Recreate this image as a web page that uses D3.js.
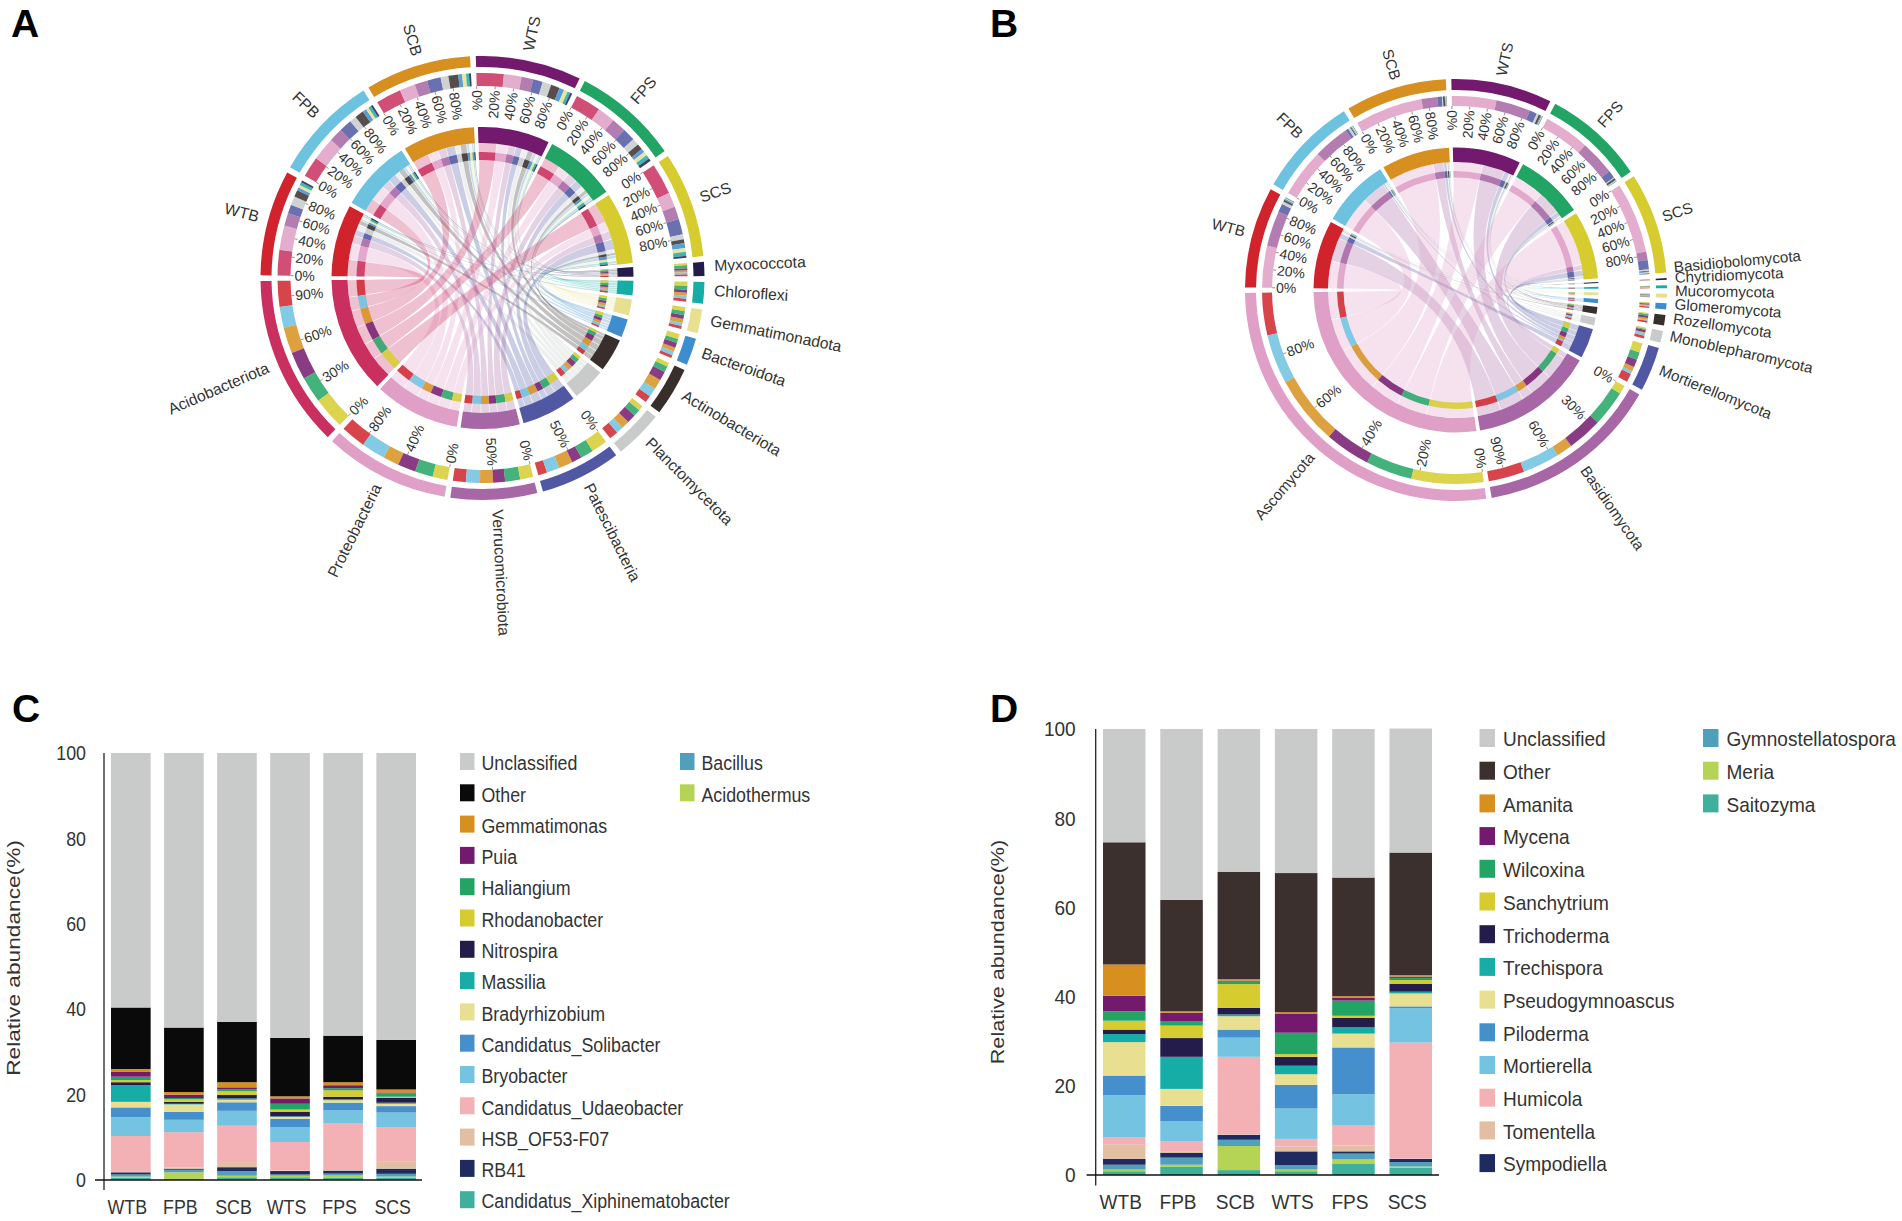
<!DOCTYPE html>
<html><head><meta charset="utf-8">
<script src="https://cdn.jsdelivr.net/npm/d3@7/dist/d3.min.js"></script>
<style>html,body{margin:0;background:#fff}svg{display:block}text{font-family:"Liberation Sans",Arial,sans-serif;fill:#333}</style>
</head><body><svg id="c" width="1902" height="1221"></svg>
<script>
// ---------- shared ----------
const samples = ["WTB","FPB","SCB","WTS","FPS","SCS"];
const sampleColors = ["#d0232c","#6dc2e0","#d7901f","#741a6e","#22a564","#d6cc30"];

// ---------- panel A : phylum composition ----------
const phylaA = ["Acidobacteriota","Proteobacteria","Verrucomicrobiota","Patescibacteria","Planctomycetota","Actinobacteriota","Bacteroidota","Gemmatimonadota","Chloroflexi","Myxococcota"];
const phylaAColors = ["#c92f5f","#df9fc6","#a766a5","#5058a3","#c8cbc9","#382f2d","#3e8dcf","#e8df90","#17ada7","#231c4b"];
const a_WTB = [26,25,13,9,9,7,3,3,3,2];
const a_FPB = [21,24,14,13,7,9,4,3,3,2];
const a_SCB = [26,16,13,14,8,10,4,4,3,2];
const a_WTS = [28,18,12,10,9,9,5,4,3,2];
const a_FPS = [26,18,15,13,7,6,4,4,4,3];
const a_SCS = [32,15,13,16,5,4,5,4,4,2];
const tickLabelsA = [[0,30,60,90],[0,40,80],[0,50],[0,50]];
const labelNudgeA = [0,0,0,0,0,0,0,0,0,0];

// ---------- panel B ----------
const phylaB = ["Ascomycota","Basidiomycota","Mortierellomycota","Monoblepharomycota","Rozellomycota","Glomeromycota","Mucoromycota","Chytridiomycota","Basidiobolomycota"];
const phylaBColors = ["#df9fc6","#a766a5","#5058a3","#c8cbc9","#382f2d","#3e8dcf","#e8df90","#17ada7","#231c4b"];
const b_WTB = [45,38,9,3,2,1.5,.7,.5,.3];
const b_FPB = [52,39,3,2.5,1,1,.7,.5,.3];
const b_SCB = [73,17,5,1,2,.8,.6,.4,.2];
const b_WTS = [48,37,8,2.5,2.2,1,.6,.4,.3];
const b_FPS = [49,38,8,1,2,.8,.6,.4,.2];
const b_SCS = [76,9,10,1.5,1,.8,.8,.5,.4];
const tickLabelsB = [[0,20,40,60,80],[0,30,60,90]];
const labelNudgeB = [0,0,0,0,0,0,-.6,-1.6,-2.2];

const sampleTicks = [0,20,40,60,80];

// ---------- panel C : genus stacks (bottom to top in the bars, top to bottom here) ----------
const genusC = ["Unclassified","Other","Gemmatimonas","Puia","Haliangium","Rhodanobacter","Nitrospira","Massilia","Bradyrhizobium","Candidatus_Solibacter","Bryobacter","Candidatus_Udaeobacter","HSB_OF53-F07","RB41","Candidatus_Xiphinematobacter","Bacillus","Acidothermus"];
const genusCColors = ["#c9cbca","#0a0a0a","#d7901f","#741a6e","#22a564","#d6cc30","#241c4a","#17ada7","#e8e090","#4590cc","#74c3e1","#f3b0b5","#e2bfa2","#1e2a60","#3fb09b","#50a0bc","#b5d354"];
const c_Unclassified=[59.6,64.3,63,66.7,66.2,67.2];
const c_Other=[14.4,15.1,14.1,13.7,10.9,11.6];
const c_Gemmatimonas=[.7,.6,1.2,.5,.7,.7];
const c_Puia=[1.1,.8,.5,1.25,.7,.2];
const c_Haliangium=[.8,.3,.4,1.35,.5,.8];
const c_Rhodanobacter=[.5,.6,.9,.5,1.5,.3];
const c_Nitrospira=[.7,.45,.8,1.1,.6,1.1];
const c_Massilia=[3.9,.15,.3,.1,.2,.25];
const c_Bradyrhizobium=[1.3,1.7,.6,.5,.6,.55];
const c_Solibacter=[2.3,1.9,2,1.9,1.8,1.5];
const c_Bryobacter=[4.4,2.9,3.5,3.5,3.1,3.4];
const c_Udaeobacter=[8.4,8.3,8.5,6.7,10.9,8];
const c_HSB=[.1,.25,1.2,.1,.1,1.75];
const c_RB41=[.5,.25,.9,.8,.7,1.2];
const c_Bacillus=[.5,.6,1.1,.3,.45,.65];
const c_Acidothermus=[.25,1.55,.35,.35,.45,.3];
const c_Xiphinematobacter=[.55,.25,.65,.65,.6,.5];

// ---------- panel D ----------
const genusD = ["Unclassified","Other","Amanita","Mycena","Wilcoxina","Sanchytrium","Trichoderma","Trechispora","Pseudogymnoascus","Piloderma","Mortierella","Humicola","Tomentella","Sympodiella","Gymnostellatospora","Meria","Saitozyma"];
const genusDColors = ["#c9cbca","#3b302d","#d7901f","#741a6e","#22a564","#d6cc30","#241c4a","#17ada7","#e8e090","#4590cc","#74c3e1","#f3b0b5","#e2bfa2","#1e2a60","#50a0bc","#b5d354","#3fb09b"];
const d_Unclassified=[25.4,38.3,32,32.3,33.3,27.8];
const d_Other=[27.4,25,24.1,31.2,26.6,27.5];
const d_Amanita=[7,.3,.3,.4,.3,.3];
const d_Mycena=[3.5,2,.1,4.2,.7,.3];
const d_Wilcoxina=[2.1,.9,.7,4.8,3.4,.5];
const d_Sanchytrium=[2,2.8,5.3,.6,.5,.8];
const d_Trichoderma=[1,4.2,1.5,2,2.1,1.8];
const d_Trechispora=[1.8,7.2,.4,1.9,1.4,.4];
const d_Pseudogymnoascus=[7.5,3.8,3,2.4,3.1,2.9];
const d_Piloderma=[4.4,3.4,1.8,5.3,10.5,.4];
const d_Mortierella=[9.4,4.5,4.3,6.8,6.9,7.7];
const d_Humicola=[1.7,2.4,17.4,1.7,4.6,26];
const d_Tomentella=[3.2,.2,.1,1.1,1.3,.1];
const d_Sympodiella=[1.3,1.1,1.1,3.1,.5,.7];
const d_Gymnostellatospora=[1.1,1.6,1.4,1,1.3,1];
const d_Meria=[.35,.5,5.4,.35,.9,.3];
const d_Saitozyma=[.85,1.8,1.1,.85,2.6,1.6];

const yTicks=[0,20,40,60,80,100];

const svg=d3.select("#c");
const rad=Math.PI/180;

function chord(cfg,matrix,phyla,phylaColors,phylumTicks,nudge){
  const g=svg.append("g").attr("transform",`translate(${cfg.cx},${cfg.cy})`);
  const colTotals=phyla.map((_,j)=>d3.sum(matrix,r=>r[j]));
  const rowTotals=matrix.map(r=>d3.sum(r));
  const n=samples.length+phyla.length;
  const gap=cfg.gap, ss=cfg.ss;
  const k=(360-n*gap)/(d3.sum(colTotals)+ss*d3.sum(rowTotals));
  const ks=k*ss;
  let a=cfg.start;
  const sampleSec=rowTotals.map(t=>{const s={a0:a,a1:a+t*ks};a=s.a1+gap;return s;});
  const phylumSec=[];
  for(let j=phyla.length-1;j>=0;j--){phylumSec[j]={a0:a,a1:a+colTotals[j]*k};a=phylumSec[j].a1+gap;}
  const links=[];
  const sCursor=sampleSec.map(s=>s.a0);
  const pCursor=phylumSec.map(s=>s.a1);
  matrix.forEach((row,i)=>row.forEach((v,j)=>{
    const s={startAngle:sCursor[i]*rad,endAngle:(sCursor[i]+v*ks)*rad};
    sCursor[i]+=v*ks;
    const t={startAngle:(pCursor[j]-v*k)*rad,endAngle:pCursor[j]*rad};
    pCursor[j]-=v*k;
    links.push({i,j,source:s,target:t});
  }));
  const arc=d3.arc();
  const ribbon=d3.ribbon().radius(cfg.rib);
  const pad=cfg.pad*rad;
  const shrink=s=>{const m=Math.min(pad,(s.endAngle-s.startAngle)*.2);return {startAngle:s.startAngle+m,endAngle:s.endAngle-m};};
  const order=links.slice().sort((x,y)=>y.j-x.j);
  g.selectAll("path.rib").data(order).join("path").attr("class","rib")
    .attr("d",d=>ribbon({source:shrink(d.source),target:shrink(d.target)}))
    .attr("fill",d=>phylaColors[d.j]).attr("fill-opacity",.3);
  const band=(sel,cls,fn,r0,r1,col,op)=>g.selectAll("path."+cls).data(sel).join("path").attr("class",cls)
    .attr("d",d=>{const s=fn(d);return arc({innerRadius:r0,outerRadius:r1,startAngle:s.startAngle,endAngle:s.endAngle});})
    .attr("fill",col).attr("fill-opacity",op);
  band(links,"ps",d=>shrink(d.source),cfg.rib,cfg.sI,d=>phylaColors[d.j],.3);
  band(links,"pt",d=>shrink(d.target),cfg.rib,cfg.sI,d=>phylaColors[d.j],.3);
  [[cfg.rib,cfg.ring],[cfg.t2I,cfg.t2O]].forEach(([r0,r1],q)=>{
    band(links,"rs"+q,d=>d.source,r0,r1,d=>phylaColors[d.j],.85);
    band(links,"rt"+q,d=>d.target,r0,r1,d=>sampleColors[d.i],.85);
  });
  const secs=sampleSec.map((s,i)=>({...s,name:samples[i],col:sampleColors[i],nudge:0}))
    .concat(phylumSec.map((s,j)=>({...s,name:phyla[j],col:phylaColors[j],nudge:nudge[j]})));
  [[cfg.sI,cfg.sO],[cfg.oI,cfg.oO]].forEach(([r0,r1],q)=>{
    g.selectAll("path.sec"+q).data(secs).join("path").attr("class","sec"+q)
     .attr("d",d=>arc({innerRadius:r0,outerRadius:r1,startAngle:d.a0*rad,endAngle:d.a1*rad}))
     .attr("fill",d=>d.col);
  });
  const radial=(ang,r,txt,size)=>{
    const norm=((ang%360)+360)%360;
    const right=norm<180;
    const x=r*Math.sin(ang*rad),y=-r*Math.cos(ang*rad);
    return g.append("text").attr("transform",`translate(${x},${y}) rotate(${right?norm-90:norm+90})`)
      .attr("text-anchor",right?"start":"end").attr("dy",".15em").attr("font-size",size).text(txt);
  };
  secs.forEach(s=>radial((s.a0+s.a1)/2+s.nudge,cfg.lab,s.name,cfg.labSize));
  const tick=(sec,val)=>{
    const ang=sec.a0+(sec.a1-sec.a0)*val/100;
    const c=Math.sin(ang*rad),d=-Math.cos(ang*rad);
    g.append("line").attr("x1",c*cfg.t2I).attr("y1",d*cfg.t2I).attr("x2",c*(cfg.t2I-3)).attr("y2",d*(cfg.t2I-3)).attr("stroke","#777").attr("stroke-width",.8);
    const norm=((ang%360)+360)%360;
    const right=norm<180;
    const r=cfg.t2I-4;
    g.append("text").attr("transform",`translate(${c*r},${d*r}) rotate(${right?norm-90:norm+90})`)
      .attr("text-anchor",right?"end":"start").attr("dy",".35em").attr("font-size",cfg.tickSize).text(val+"%");
  };
  sampleSec.forEach(s=>sampleTicks.forEach(v=>tick(s,v)));
  phylumTicks.forEach((vals,j)=>vals.forEach(v=>tick(phylumSec[j],v)));
}

chord({cx:482.5,cy:278,gap:1.5,ss:.978,start:270.7,pad:.12,rib:118,ring:126,sI:135,sO:151,t2I:192,t2O:205,oI:211,oO:222,lab:232,labSize:15.7,tickSize:14},
  [a_WTB,a_FPB,a_SCB,a_WTS,a_FPS,a_SCS],phylaA,phylaAColors,tickLabelsA,labelNudgeA);
chord({cx:1456,cy:290,gap:1.5,ss:.98,start:270.7,pad:.12,rib:112.5,ring:119,sI:128,sO:142.5,t2I:184,t2O:194,oI:200,oO:211,lab:219,labSize:15.2,tickSize:14},
  [b_WTB,b_FPB,b_SCB,b_WTS,b_FPS,b_SCS],phylaB,phylaBColors,tickLabelsB,labelNudgeB);

function stacked(cfg,names,colors,series){
  const g=svg.append("g");
  const data=samples.map((s,i)=>{const o={sample:s};names.forEach((n,j)=>o[n]=series[j][i]);return o;});
  const y=d3.scaleLinear().domain([0,100]).range([cfg.y0,cfg.y100]);
  const x=d3.scaleBand().domain(samples).range([cfg.x0,cfg.x1]).paddingInner(cfg.pi).paddingOuter(0);
  const stackKeys=cfg.stackOrder.map(i=>names[i]);
  const st=d3.stack().keys(stackKeys)(data);
  const colorOf=Object.fromEntries(names.map((n,i)=>[n,colors[i]]));
  g.selectAll("g.s").data(st).join("g").attr("class","s").attr("fill",d=>colorOf[d.key])
    .selectAll("rect").data(d=>d).join("rect")
    .attr("x",d=>x(d.data.sample)).attr("width",x.bandwidth())
    .attr("y",d=>y(d[1])).attr("height",d=>y(d[0])-y(d[1]));
  g.append("line").attr("x1",cfg.axisX).attr("x2",cfg.axisX).attr("y1",cfg.y100).attr("y2",cfg.axisBottom).attr("stroke","#222").attr("stroke-width",1.3);
  g.append("line").attr("x1",cfg.xAxisL).attr("x2",cfg.xAxisR).attr("y1",cfg.y0).attr("y2",cfg.y0).attr("stroke","#111").attr("stroke-width",1.6);
  const sq=cfg.sq;
  yTicks.forEach(t=>{
    g.append("text").attr("transform",`translate(${cfg.axisX-cfg.tickGap},${y(t)}) scale(${sq},1)`).attr("text-anchor","end").attr("dy",".36em").attr("font-size",cfg.fs).text(t);
  });
  samples.forEach(s=>{
    g.append("text").attr("transform",`translate(${x(s)+x.bandwidth()/2-3.5},${cfg.xLabY}) scale(${sq},1)`).attr("text-anchor","middle").attr("font-size",cfg.fs).text(s);
  });
  g.append("text").attr("transform",`translate(${cfg.titleX},${cfg.titleY}) rotate(-90) scale(${cfg.titleSq},1)`).attr("text-anchor","middle").attr("font-size",cfg.titleSize).text("Relative abundance(%)");
  cfg.legend.forEach((col,ci)=>{
    col.forEach((idx,r)=>{
      const ly=cfg.legY+r*cfg.legStep;
      g.append("rect").attr("x",cfg.legX[ci]).attr("y",ly).attr("width",cfg.swW).attr("height",cfg.swH).attr("fill",colors[idx]);
      g.append("text").attr("transform",`translate(${cfg.legX[ci]+cfg.txOff},${ly+cfg.swH/2+cfg.txDy}) scale(${sq},1)`).attr("dy",".36em").attr("font-size",cfg.fs).text(names[idx]);
    });
  });
}

stacked({x0:111,x1:416,pi:.253,y0:1180,y100:753,axisX:104,axisBottom:1190,xAxisL:95,xAxisR:422,xLabY:1214,fs:20,sq:.89,tickGap:18,
  titleX:20,titleY:958,titleSize:18,titleSq:1.26,legX:[460,680],legY:753,legStep:31.3,swW:14.5,swH:17,txOff:21.5,txDy:1.5,
  stackOrder:[14,16,15,13,12,11,10,9,8,7,6,5,4,3,2,1,0],
  legend:[[0,1,2,3,4,5,6,7,8,9,10,11,12,13,14],[15,16]]},
  genusC,genusCColors,[c_Unclassified,c_Other,c_Gemmatimonas,c_Puia,c_Haliangium,c_Rhodanobacter,c_Nitrospira,c_Massilia,c_Bradyrhizobium,c_Solibacter,c_Bryobacter,c_Udaeobacter,c_HSB,c_RB41,c_Xiphinematobacter,c_Bacillus,c_Acidothermus]);

stacked({x0:1103,x1:1432,pi:.258,y0:1175,y100:729,axisX:1095.7,axisBottom:1185.5,xAxisL:1086.6,xAxisR:1439,xLabY:1209,fs:20.5,sq:.93,tickGap:20,
  titleX:1004,titleY:952,titleSize:18,titleSq:1.2,legX:[1479.5,1703],legY:729,legStep:32.7,swW:15.5,swH:18,txOff:23.5,txDy:1,
  stackOrder:[16,15,14,13,12,11,10,9,8,7,6,5,4,3,2,1,0],
  legend:[[0,1,2,3,4,5,6,7,8,9,10,11,12,13],[14,15,16]]},
  genusD,genusDColors,[d_Unclassified,d_Other,d_Amanita,d_Mycena,d_Wilcoxina,d_Sanchytrium,d_Trichoderma,d_Trechispora,d_Pseudogymnoascus,d_Piloderma,d_Mortierella,d_Humicola,d_Tomentella,d_Sympodiella,d_Gymnostellatospora,d_Meria,d_Saitozyma]);

[["A",11,37],["B",990,37],["C",12,722],["D",990,722]].forEach(([t,x,y])=>{
  svg.append("text").attr("x",x).attr("y",y).attr("font-size",39).attr("font-weight","bold").style("fill","#000").text(t);
});
</script></body></html>
